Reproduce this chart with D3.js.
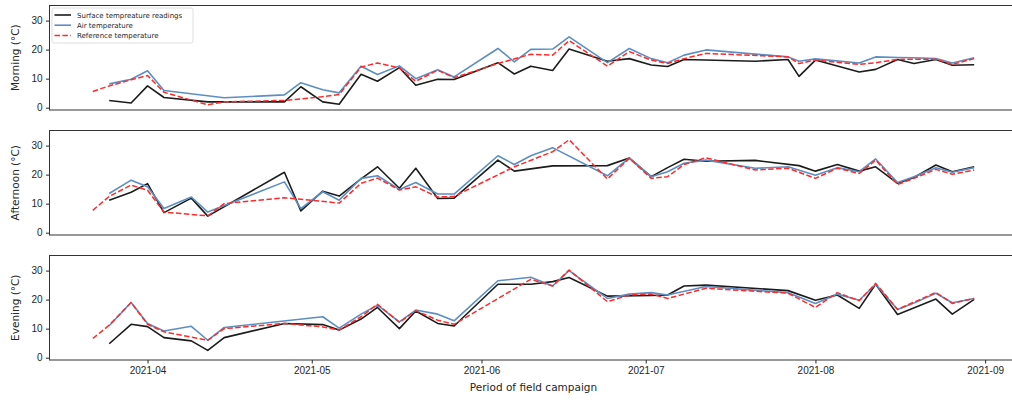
<!DOCTYPE html>
<html>
<head>
<meta charset="utf-8">
<script src="https://cdn.jsdelivr.net/npm/d3@7"></script>
<style>
  body { margin: 0; background: #fff; }
  svg { font-family: "DejaVu Sans", sans-serif; }
  .axis text { font-size: 10px; fill: #262626; }
  .axis path, .axis line { stroke: #262626; }
</style>
</head>
<body>
<svg width="1012" height="401"></svg>
<script>
// measurement dates (reference series starts a few days earlier)
const dates = ['2021-03-22', '2021-03-25', '2021-03-29', '2021-04-01', '2021-04-04', '2021-04-09',
  '2021-04-12', '2021-04-15', '2021-04-26', '2021-04-29', '2021-05-03', '2021-05-06', '2021-05-10',
  '2021-05-13', '2021-05-17', '2021-05-20', '2021-05-24', '2021-05-27', '2021-06-04', '2021-06-07',
  '2021-06-10', '2021-06-14', '2021-06-17', '2021-06-24', '2021-06-28', '2021-07-02', '2021-07-05',
  '2021-07-08', '2021-07-12', '2021-07-21', '2021-07-27', '2021-07-29', '2021-08-01', '2021-08-05',
  '2021-08-09', '2021-08-12', '2021-08-16', '2021-08-19', '2021-08-23', '2021-08-26', '2021-08-30']

const panels = ['Morning (°C)', 'Afternoon (°C)', 'Evening (°C)']
const seriesNames = ['Surface tempreature readings', 'Air temperature', 'Reference temperature']
const yTicks = [0, 10, 20, 30]
const monthTicks = ['2021-04-01', '2021-05-01', '2021-06-01', '2021-07-01', '2021-08-01', '2021-09-01']

// morning
const morningSurface = [null, 2.5, 1.6, 7.5, 3.5, null, 2.0, null, 2.0, 7.2, 2.0, 1.2, 11.5, 9.1, 13.8, 7.7, 9.8, 9.7, 15.5, 11.6, 14.3, 12.8, 20.2, 16.0, 16.9, 14.7, 14.2, 16.6, null, 16.0, 16.6, 10.8, 16.4, null, 12.3, 13.2, 16.6, 15.2, 16.6, 14.6, 14.8]
const morningAir = [null, 8.2, 9.8, 12.7, 5.9, null, null, 3.4, 4.4, 8.6, 6.2, 5.1, 14.3, 11.4, 14.4, 10.0, 13.1, 10.6, 20.4, 15.8, 20.1, 20.2, 24.4, 15.5, 20.4, 16.9, 15.5, 18.1, 19.9, null, 17.5, 16.0, 16.8, null, 15.4, 17.5, 17.3, 17.2, 16.9, 15.4, 17.2]
const morningRef = [5.6, 7.5, 9.6, 11.1, 5.3, null, 1.0, 2.0, 2.5, 3.0, 3.8, 4.5, 14.0, 15.4, 13.7, 9.1, 12.9, 10.3, 15.2, null, 18.4, 18.1, 23.1, 14.3, 19.3, 16.4, 15.2, 16.9, 18.7, null, 17.5, 15.2, 16.4, null, 14.9, 15.5, 16.6, 16.7, 16.7, 14.9, 16.9]

// afternoon
const afternoonSurface = [null, 11.2, 13.9, 16.9, 6.9, 11.9, 5.7, null, 20.8, 7.5, 14.3, 12.6, 18.5, 22.7, 15.3, 22.2, 11.8, 11.9, 25.0, 21.2, null, 23.0, null, 23.1, 25.7, 19.3, 22.4, 25.3, 24.6, 24.9, null, 23.1, 21.2, 23.5, 21.2, 22.7, 17.0, 19.0, 23.3, 21.0, 22.7]
const afternoonAir = [null, 13.5, 18.1, 15.8, 8.3, 12.3, 7.1, null, 17.5, 8.3, 14.1, 11.2, 18.7, 19.6, 14.9, 17.3, 13.3, 13.3, 26.5, 23.5, 26.5, 29.3, null, 19.6, 25.8, 19.3, 21.0, 23.9, 25.0, 22.2, 22.7, null, 19.8, 22.4, 21.0, 25.4, 17.3, 19.3, 22.4, 20.8, 22.4]
const afternoonRef = [7.7, 12.5, 16.4, 14.6, 7.1, null, 5.8, 10.0, 12.0, 11.5, null, 10.2, 17.0, 18.8, 14.7, 15.8, 12.3, 12.5, null, 22.7, null, 27.9, 32.0, 18.5, 25.6, 18.7, 19.3, 23.5, 25.8, 21.6, 22.2, null, 18.7, 22.2, 20.4, 25.0, 16.6, 18.7, 21.8, 20.1, 21.6]

// evening
const eveningSurface = [null, 4.8, 11.5, 10.7, 6.9, 5.8, 2.5, 6.9, 11.8, null, 11.4, 9.5, 13.3, 17.3, 10.0, 16.1, 11.8, 10.9, 25.3, null, 25.3, 26.2, 27.6, 21.2, null, 21.4, 21.6, 24.7, 25.0, null, 23.1, null, 19.8, 21.6, 17.0, 25.3, 14.9, null, 20.2, 15.0, 20.1]
const eveningAir = [null, 11.0, 19.0, 11.8, 9.2, 10.8, 6.0, 10.4, null, null, 14.1, 10.2, 15.0, 18.1, 12.3, 16.4, 15.0, 12.7, 26.5, null, 27.7, 24.7, 30.0, 20.4, 21.9, 22.4, 21.6, null, 24.5, null, 22.4, null, 18.7, 21.9, 19.8, 25.3, 16.6, 18.8, 22.2, 18.9, 20.4]
const eveningRef = [6.6, 11.2, 19.0, 11.5, 8.9, null, 6.0, 10.0, 11.8, null, 10.6, 9.5, 14.1, 18.4, 12.2, 16.2, 12.9, 11.5, null, null, 27.0, 24.7, 30.2, 19.3, 21.6, 21.9, 20.4, null, 23.9, null, 22.2, null, 17.3, 22.4, 19.6, 25.6, 16.6, null, 22.5, 18.7, 20.4]

const panelData = [
  [morningSurface, morningAir, morningRef],
  [afternoonSurface, afternoonAir, afternoonRef],
  [eveningSurface, eveningAir, eveningRef]
]

const parse = d3.timeParse('%Y-%m-%d')
const styles = [
  { color: '#1c1c1c', dash: null, width: 1.6 },
  { color: '#5b8fc4', dash: null, width: 1.6 },
  { color: '#ff2a2a', dash: '5.5,2.4', width: 1.5 }
]

const svg = d3.select('svg')
const left = 49
const right = 1018
const panelTops = [5.5, 130.5, 255.5]
const panelH = 104.5

const x = d3.scaleTime()
  .domain([new Date(2021, 2, 14), new Date(2021, 8, 7)])
  .range([left, right])

panels.forEach((label, p) => {
  const top = panelTops[p]
  const y = d3.scaleLinear().domain([-0.8, 35.2]).range([top + panelH, top])
  const g = svg.append('g')

  g.append('g')
    .attr('class', 'axis')
    .attr('transform', `translate(${left + 0.5},0)`)
    .call(d3.axisLeft(y).tickValues(yTicks).tickSize(3.5).tickPadding(3.5))
    .call(a => a.select('.domain').remove())

  if (p === 2) {
    g.append('g')
      .attr('class', 'axis')
      .attr('transform', `translate(0,${top + panelH})`)
      .call(d3.axisBottom(x).tickValues(monthTicks.map(parse)).tickFormat(d3.timeFormat('%Y-%m')).tickSize(3.5).tickPadding(3.5))
      .call(a => a.select('.domain').remove())
  }

  g.append('text')
    .attr('transform', `translate(19,${top + panelH / 2}) rotate(-90)`)
    .attr('text-anchor', 'middle')
    .attr('font-size', 10.5)
    .attr('fill', '#262626')
    .text(label)

  const line = d3.line().x(d => x(d.date)).y(d => y(d.v))
  panelData[p].forEach((vals, s) => {
    const pts = dates.map((d, i) => ({ date: parse(d), v: vals[i] })).filter(d => d.v !== null)
    g.append('path')
      .datum(pts)
      .attr('d', line)
      .attr('fill', 'none')
      .attr('stroke', styles[s].color)
      .attr('stroke-width', styles[s].width)
      .attr('stroke-dasharray', styles[s].dash)
      .attr('stroke-linejoin', 'round')
  })

  // frame
  g.append('rect')
    .attr('x', left + 0.5)
    .attr('y', top)
    .attr('width', right - left)
    .attr('height', panelH)
    .attr('fill', 'none')
    .attr('stroke', '#333')
    .attr('stroke-width', 1)
})

// legend in the first panel
const lg = svg.append('g').attr('transform', 'translate(52,8)')
lg.append('rect')
  .attr('width', 141).attr('height', 35).attr('rx', 2)
  .attr('fill', 'rgba(255,255,255,0.8)').attr('stroke', '#d5d5d5').attr('stroke-width', 0.8)
seriesNames.forEach((name, i) => {
  const yy = 7 + i * 10.2
  lg.append('line')
    .attr('x1', 2.5).attr('x2', 19).attr('y1', yy).attr('y2', yy)
    .attr('stroke', styles[i].color)
    .attr('stroke-width', styles[i].width)
    .attr('stroke-dasharray', styles[i].dash)
  lg.append('text')
    .attr('x', 25).attr('y', yy + 2.5)
    .attr('font-size', 7)
    .attr('fill', '#262626')
    .text(name)
})

svg.append('text')
  .attr('x', (left + right) / 2)
  .attr('y', 391)
  .attr('text-anchor', 'middle')
  .attr('font-size', 10.5)
  .attr('fill', '#262626')
  .text('Period of field campaign')
</script>
</body>
</html>
